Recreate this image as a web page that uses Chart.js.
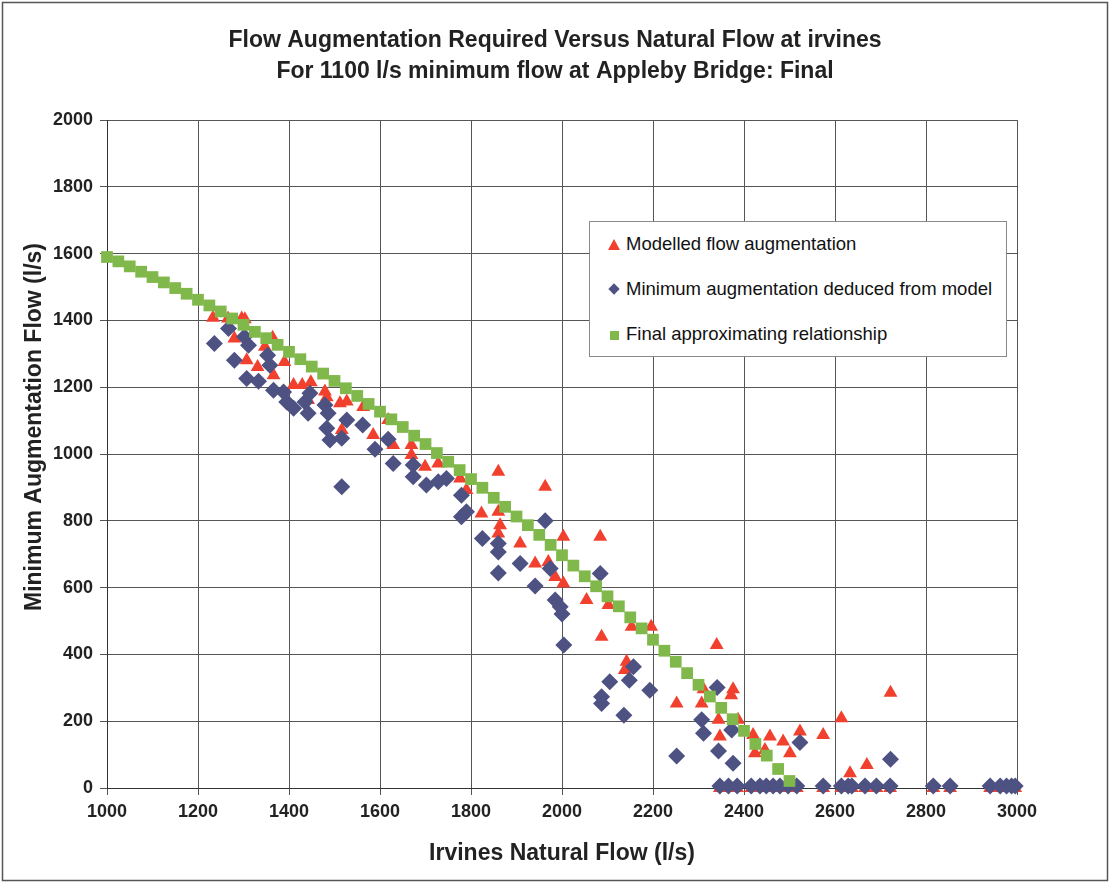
<!DOCTYPE html>
<html>
<head>
<meta charset="utf-8">
<title>Flow Augmentation Required Versus Natural Flow at irvines</title>
<script src="https://cdn.jsdelivr.net/npm/chart.js@4.4.1/dist/chart.umd.min.js"></script>
<style>
  html, body { margin: 0; padding: 0; background: #fff; }
  #wrap { position: relative; width: 1110px; height: 884px; }
  #legend {
    position: absolute; left: 589px; top: 221px; width: 416px; height: 134px;
    border: 1px solid #8a8a8a; background: #fff;
    font-family: 'Liberation Sans', Arial, sans-serif; font-size: 18.5px; color: #111;
  }
  #legend .row { position: absolute; left: 0; height: 24px; width: 100%; }
  #legend .mark { position: absolute; left: 18px; top: 6px; }
  #legend .label { position: absolute; left: 36px; top: 0; line-height: 24px; white-space: nowrap; }
  .tri { width: 0; height: 0; border-left: 6px solid transparent; border-right: 6px solid transparent; border-bottom: 11px solid #f2402f; top: 7px !important; }
  .dia { width: 8px; height: 8px; background: #4d5283; transform: rotate(45deg); left: 20px !important; top: 8px !important; }
  .sq { width: 9px; height: 9px; background: #80b84b; left: 20px !important; top: 9px !important; }
</style>
</head>
<body>
<div id="wrap">
  <canvas id="flowChart" width="1110" height="884"></canvas>
  <div id="legend"></div>
</div>
<script>
// Irvines natural flow (l/s) vs augmentation (l/s)
const modelledFlow = [1233, 1266, 1296, 1303, 1280, 1307, 1331, 1366, 1390, 1364, 1347, 1410, 1429, 1448, 1442,
  1479, 1483, 1512, 1527, 1563, 1516, 1585, 1618, 1629, 1669, 1669, 1699, 1728, 1776, 1790, 1860, 1963, 1823,
  1860, 1864, 1860, 1908, 1941, 1970, 1985, 2003, 2084, 2003, 2054, 2102, 2153, 2196, 2340, 2087, 2142, 2138,
  2252, 2307, 2311, 2376, 2372, 2344, 2387, 2347, 2420, 2424, 2446, 2457, 2486, 2501, 2523, 2574, 2614, 2722,
  2670, 2633];
const modelledAug = [1408, 1406, 1406, 1404, 1346, 1281, 1261, 1236, 1276, 1348, 1321, 1207, 1207, 1215, 1162,
  1187, 1170, 1152, 1157, 1141, 1072, 1057, 1102, 1027, 1027, 997, 962, 972, 927, 892, 947, 902, 822,
  827, 787, 762, 732, 672, 677, 632, 752, 752, 612, 563, 548, 483, 483, 428, 453, 378, 353,
  253, 253, 296, 296, 278, 204, 204, 154, 159, 104, 114, 154, 139, 104, 169, 159, 209, 285,
  69, 44];

const minimumFlow = [1236, 1267, 1280, 1302, 1311, 1307, 1333, 1353, 1358, 1366, 1388, 1395, 1410, 1435, 1446,
  1442, 1479, 1486, 1483, 1490, 1516, 1527, 1562, 1516, 1589, 1618, 1629, 1673, 1673, 1702, 1728, 1746, 1779,
  1790, 1779, 1963, 1825, 1860, 1860, 1860, 1908, 1941, 1974, 1985, 1996, 2000, 2004, 2084, 2087, 2087, 2105,
  2148, 2157, 2193, 2136, 2252, 2307, 2311, 2341, 2344, 2373, 2376, 2523, 2722];
const minimumAug = [1331, 1376, 1281, 1351, 1326, 1226, 1218, 1296, 1266, 1191, 1186, 1156, 1137, 1156, 1182,
  1122, 1147, 1122, 1077, 1042, 1047, 1102, 1087, 902, 1014, 1044, 972, 967, 932, 907, 917, 927, 877,
  827, 812, 800, 747, 732, 707, 644, 672, 605, 657, 563, 543, 521, 428, 642, 273, 253, 318,
  323, 363, 293, 218, 96, 204, 164, 301, 111, 174, 74, 136, 86];

// flows where no augmentation is needed
const zeroAugFlow = [2347, 2366, 2385, 2416, 2435, 2449, 2464, 2479, 2497, 2516, 2574, 2614, 2629, 2637,
  2666, 2691, 2721, 2816, 2853, 2941, 2963, 2977, 2988, 2996];
const zeroModelledAug = 0;
const zeroMinimumAug = 6;

const finalFlow = [1000, 1025, 1050, 1075, 1100, 1125, 1150, 1175, 1200, 1225, 1250, 1275, 1300, 1325, 1350,
  1375, 1400, 1425, 1450, 1475, 1500, 1525, 1550, 1575, 1600, 1625, 1650, 1675, 1700, 1725, 1750, 1775, 1800,
  1825, 1850, 1875, 1900, 1925, 1950, 1975, 2000, 2025, 2050, 2075, 2100, 2125, 2150, 2175, 2200, 2225, 2250,
  2275, 2300, 2325, 2350, 2375, 2400, 2425, 2450, 2475, 2500];
const finalAug = [1590, 1577, 1562, 1546, 1530, 1514, 1497, 1480, 1462, 1445, 1427, 1406, 1387, 1366, 1347,
  1327, 1306, 1284, 1262, 1241, 1219, 1197, 1174, 1150, 1127, 1104, 1081, 1055, 1030, 1003, 977, 952, 925,
  899, 869, 842, 813, 787, 758, 728, 697, 666, 634, 604, 574, 544, 511, 478, 444, 411, 378,
  344, 309, 274, 240, 206, 171, 132, 97, 57, 21];

const xTicks = [1000, 1200, 1400, 1600, 1800, 2000, 2200, 2400, 2600, 2800, 3000];
const yTicks = [0, 200, 400, 600, 800, 1000, 1200, 1400, 1600, 1800, 2000];

const titleLines = ['Flow Augmentation Required Versus Natural Flow at irvines',
  'For 1100 l/s minimum flow at Appleby Bridge: Final'];
const xTitle = 'Irvines Natural Flow (l/s)';
const yTitle = 'Minimum Augmentation Flow (l/s)';

const labelModelled = 'Modelled flow augmentation';
const labelMinimum = 'Minimum augmentation deduced from model';
const labelFinal = 'Final approximating relationship';

const redColor = '#f2402f';
const blueColor = '#4d5283';
const greenColor = '#80b84b';
const fontFamily = "'Liberation Sans', Arial, sans-serif";

function toPoints(xs, ys) {
  return xs.map((x, i) => ({ x: x, y: ys[i] }));
}

const modelledPoints = toPoints(modelledFlow, modelledAug)
  .concat(zeroAugFlow.map(x => ({ x: x, y: zeroModelledAug })));
const minimumPoints = toPoints(minimumFlow, minimumAug)
  .concat(zeroAugFlow.map(x => ({ x: x, y: zeroMinimumAug })));
const finalPoints = toPoints(finalFlow, finalAug);

// rotated y-axis title, sits a bit above the plot centre
const yTitlePlugin = {
  id: 'yTitle',
  afterDraw(chart) {
    const ctx = chart.ctx;
    ctx.save();
    ctx.translate(35, 427);
    ctx.rotate(-Math.PI / 2);
    ctx.font = 'bold 23px ' + fontFamily;
    ctx.fillStyle = '#222';
    ctx.textAlign = 'center';
    ctx.textBaseline = 'middle';
    ctx.fillText(yTitle, 0, 0);
    ctx.restore();
  }
};

// thin frame round the whole chart
const framePlugin = {
  id: 'frame',
  beforeDraw(chart) {
    const ctx = chart.ctx;
    ctx.save();
    ctx.fillStyle = '#fff';
    ctx.fillRect(0, 0, chart.width, chart.height);
    ctx.strokeStyle = '#555';
    ctx.lineWidth = 1.5;
    ctx.strokeRect(2.5, 2.5, chart.width - 5, chart.height - 6);
    ctx.restore();
  }
};

// plain numbers, no thousands separator
const plainNumber = v => String(v);

const chart = new Chart(document.getElementById('flowChart'), {
  type: 'scatter',
  data: {
    datasets: [
      {
        label: labelModelled,
        data: modelledPoints,
        pointStyle: 'triangle',
        pointRadius: 8,
        backgroundColor: redColor,
        borderColor: redColor,
        borderWidth: 0,
        clip: false,
        order: 2
      },
      {
        label: labelMinimum,
        data: minimumPoints,
        pointStyle: 'rectRot',
        pointRadius: 8.5,
        backgroundColor: blueColor,
        borderColor: blueColor,
        borderWidth: 0,
        clip: false,
        order: 1
      },
      {
        label: labelFinal,
        data: finalPoints,
        pointStyle: 'rect',
        pointRadius: 8.3,
        backgroundColor: greenColor,
        borderColor: greenColor,
        borderWidth: 0,
        clip: false,
        order: 0
      }
    ]
  },
  options: {
    responsive: false,
    animation: false,
    layout: { padding: { left: 0, right: 0, top: 0, bottom: 13 } },
    plugins: {
      legend: { display: false },
      tooltip: { enabled: false },
      title: {
        display: true,
        text: titleLines,
        color: '#222',
        font: { family: fontFamily, size: 23, weight: 'bold', lineHeight: 1.35 },
        padding: { top: 25, bottom: 33 }
      }
    },
    scales: {
      x: {
        type: 'linear',
        min: xTicks[0],
        max: xTicks[xTicks.length - 1],
        afterBuildTicks(scale) { scale.ticks = xTicks.map(v => ({ value: v })); },
        afterFit(scale) { scale.height = 83; },
        grid: { color: '#555', lineWidth: 1, tickLength: 7, drawTicks: true },
        border: { color: '#333', width: 1 },
        ticks: {
          padding: 6,
          color: '#222',
          callback: plainNumber,
          font: { family: fontFamily, size: 18, weight: 'bold' }
        },
        title: {
          display: true,
          text: xTitle,
          color: '#222',
          font: { family: fontFamily, size: 23, weight: 'bold' },
          padding: { top: 4, bottom: 4 }
        }
      },
      y: {
        type: 'linear',
        min: yTicks[0],
        max: yTicks[yTicks.length - 1],
        afterBuildTicks(scale) { scale.ticks = yTicks.map(v => ({ value: v })); },
        afterFit(scale) { scale.width = 107; },
        grid: { color: '#555', lineWidth: 1, tickLength: 7, drawTicks: true },
        border: { color: '#333', width: 1 },
        ticks: {
          padding: 7,
          color: '#222',
          callback: plainNumber,
          font: { family: fontFamily, size: 18, weight: 'bold' }
        }
      },
      // empty axis that keeps the gap on the right of the plot
      spacer: {
        type: 'linear',
        axis: 'y',
        position: 'right',
        display: true,
        afterFit(scale) { scale.width = 93; },
        grid: { display: false },
        border: { display: false },
        ticks: { display: false }
      }
    }
  },
  plugins: [framePlugin, yTitlePlugin]
});

// legend box inside the plot
const legendItems = [
  { cls: 'tri', text: labelModelled, top: 10 },
  { cls: 'dia', text: labelMinimum, top: 55 },
  { cls: 'sq', text: labelFinal, top: 100 }
];
const legend = document.getElementById('legend');
legendItems.forEach(item => {
  const row = document.createElement('div');
  row.className = 'row';
  row.style.top = item.top + 'px';
  const mark = document.createElement('span');
  mark.className = 'mark ' + item.cls;
  const label = document.createElement('span');
  label.className = 'label';
  label.textContent = item.text;
  row.appendChild(mark);
  row.appendChild(label);
  legend.appendChild(row);
});
</script>
</body>
</html>
